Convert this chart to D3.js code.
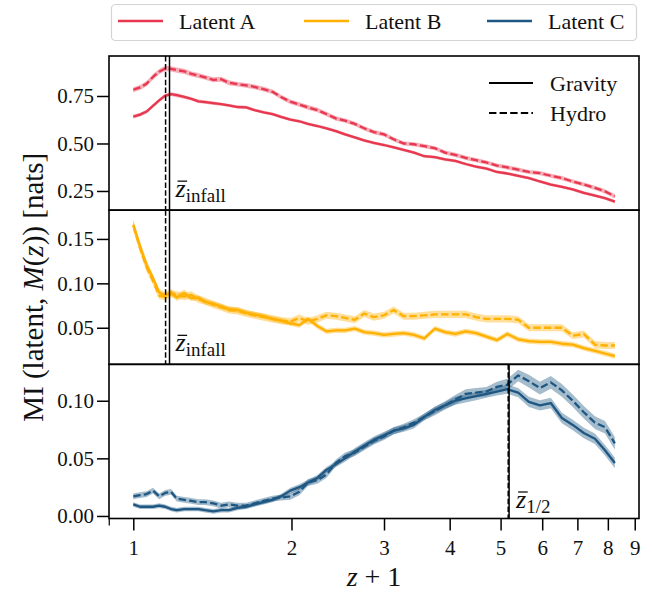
<!doctype html>
<html lang="en">
<head>
<meta charset="utf-8">
<title>MI vs z+1</title>
<script src="https://cdn.jsdelivr.net/npm/d3@7"></script>
<style>
  body { margin: 0; background: #fff; }
  text { font-family: "Liberation Serif", serif; fill: #111; }
</style>
</head>
<body>
<svg id="chart" width="652" height="593"></svg>
<script>
// z + 1 sample points (shared by all curves)
var zp1 = [
  1.00, 1.03, 1.06, 1.09, 1.12, 1.15, 1.18, 1.21, 1.25,
  1.29, 1.33, 1.37, 1.42, 1.47, 1.52, 1.58, 1.64, 1.70,
  1.77, 1.84, 1.91, 1.99, 2.07, 2.15, 2.24, 2.33, 2.43,
  2.53, 2.64, 2.75, 2.87, 3.00, 3.13, 3.27, 3.42, 3.58,
  3.75, 3.92, 4.10, 4.29, 4.49, 4.70, 4.92, 5.15, 5.40,
  5.66, 5.94, 6.23, 6.54, 6.86, 7.20, 7.56, 7.90, 8.25
];

// Latent A
var latentA_gravity = [
  0.641, 0.652, 0.668, 0.698, 0.727, 0.752, 0.760, 0.754, 0.745,
  0.735, 0.722, 0.718, 0.712, 0.707, 0.700, 0.692, 0.690, 0.676,
  0.664, 0.655, 0.640, 0.626, 0.617, 0.603, 0.592, 0.580, 0.565,
  0.548, 0.532, 0.516, 0.503, 0.492, 0.480, 0.466, 0.452, 0.433,
  0.428, 0.416, 0.408, 0.392, 0.378, 0.368, 0.350, 0.342, 0.330,
  0.318, 0.300, 0.284, 0.272, 0.258, 0.240, 0.226, 0.212, 0.194
];
var latentA_gravity_err = [
  0.010, 0.010, 0.010, 0.010, 0.010, 0.010, 0.010, 0.010, 0.009,
  0.009, 0.009, 0.009, 0.009, 0.008, 0.008, 0.008, 0.008, 0.008,
  0.008, 0.008, 0.008, 0.008, 0.008, 0.008, 0.008, 0.008, 0.008,
  0.008, 0.008, 0.008, 0.008, 0.008, 0.008, 0.008, 0.008, 0.008,
  0.008, 0.008, 0.008, 0.008, 0.008, 0.008, 0.008, 0.008, 0.008,
  0.008, 0.008, 0.008, 0.008, 0.008, 0.008, 0.008, 0.008, 0.008
];
var latentA_hydro = [
  0.783, 0.795, 0.815, 0.850, 0.878, 0.895, 0.893, 0.886, 0.880,
  0.866, 0.858, 0.848, 0.835, 0.838, 0.820, 0.812, 0.806, 0.798,
  0.786, 0.772, 0.745, 0.720, 0.705, 0.690, 0.676, 0.655, 0.632,
  0.620, 0.603, 0.580, 0.560, 0.548, 0.522, 0.500, 0.496, 0.486,
  0.475, 0.452, 0.440, 0.424, 0.412, 0.400, 0.384, 0.374, 0.362,
  0.350, 0.344, 0.330, 0.318, 0.300, 0.284, 0.266, 0.248, 0.222
];
var latentA_hydro_err = [
  0.013, 0.013, 0.014, 0.014, 0.014, 0.014, 0.014, 0.014, 0.014,
  0.013, 0.013, 0.013, 0.013, 0.013, 0.013, 0.012, 0.012, 0.012,
  0.012, 0.012, 0.012, 0.012, 0.012, 0.012, 0.012, 0.012, 0.012,
  0.011, 0.011, 0.011, 0.011, 0.011, 0.011, 0.011, 0.011, 0.011,
  0.011, 0.011, 0.011, 0.011, 0.011, 0.011, 0.011, 0.011, 0.011,
  0.011, 0.011, 0.011, 0.011, 0.011, 0.011, 0.011, 0.011, 0.011
];

// Latent B
var latentB_gravity = [
  0.166, 0.142, 0.121, 0.106, 0.090, 0.086, 0.090, 0.084, 0.089,
  0.083, 0.084, 0.079, 0.077, 0.074, 0.071, 0.070, 0.067, 0.065,
  0.063, 0.060, 0.058, 0.055, 0.053, 0.060, 0.052, 0.046, 0.047,
  0.047, 0.049, 0.045, 0.044, 0.042, 0.043, 0.044, 0.042, 0.038,
  0.049, 0.045, 0.043, 0.046, 0.044, 0.040, 0.036, 0.043, 0.037,
  0.035, 0.034, 0.034, 0.032, 0.031, 0.027, 0.024, 0.021, 0.018
];
var latentB_gravity_err = [
  0.006, 0.005, 0.005, 0.004, 0.004, 0.004, 0.004, 0.004, 0.004,
  0.003, 0.003, 0.003, 0.003, 0.003, 0.003, 0.003, 0.003, 0.003,
  0.003, 0.003, 0.003, 0.003, 0.003, 0.003, 0.003, 0.003, 0.003,
  0.003, 0.003, 0.003, 0.003, 0.003, 0.003, 0.003, 0.003, 0.003,
  0.003, 0.003, 0.003, 0.003, 0.003, 0.003, 0.003, 0.003, 0.003,
  0.003, 0.003, 0.003, 0.003, 0.003, 0.003, 0.003, 0.003, 0.003
];
var latentB_hydro = [
  0.165, 0.140, 0.118, 0.103, 0.086, 0.085, 0.088, 0.087, 0.085,
  0.087, 0.082, 0.080, 0.076, 0.073, 0.070, 0.069, 0.066, 0.064,
  0.062, 0.060, 0.058, 0.057, 0.061, 0.057, 0.060, 0.064, 0.063,
  0.061, 0.059, 0.066, 0.062, 0.064, 0.070, 0.063, 0.063, 0.064,
  0.065, 0.065, 0.065, 0.065, 0.062, 0.060, 0.060, 0.060, 0.059,
  0.050, 0.050, 0.050, 0.050, 0.041, 0.043, 0.031, 0.030, 0.030
];
var latentB_hydro_err = [
  0.006, 0.006, 0.005, 0.005, 0.004, 0.004, 0.004, 0.004, 0.004,
  0.004, 0.004, 0.004, 0.004, 0.004, 0.004, 0.004, 0.004, 0.004,
  0.004, 0.004, 0.004, 0.004, 0.004, 0.004, 0.004, 0.004, 0.004,
  0.004, 0.004, 0.004, 0.004, 0.004, 0.004, 0.004, 0.004, 0.004,
  0.004, 0.004, 0.004, 0.004, 0.004, 0.004, 0.004, 0.004, 0.004,
  0.004, 0.004, 0.004, 0.004, 0.004, 0.004, 0.004, 0.004, 0.004
];

// Latent C
var latentC_gravity = [
  0.010, 0.008, 0.008, 0.008, 0.009, 0.008, 0.006, 0.005, 0.006,
  0.006, 0.006, 0.005, 0.004, 0.005, 0.005, 0.007, 0.008, 0.010,
  0.012, 0.014, 0.017, 0.022, 0.025, 0.029, 0.033, 0.040, 0.045,
  0.050, 0.056, 0.061, 0.066, 0.070, 0.074, 0.076, 0.079, 0.086,
  0.092, 0.096, 0.100, 0.102, 0.104, 0.106, 0.108, 0.110, 0.107,
  0.099, 0.096, 0.098, 0.085, 0.079, 0.072, 0.067, 0.057, 0.046
];
var latentC_gravity_err = [
  0.002, 0.002, 0.002, 0.002, 0.002, 0.002, 0.002, 0.002, 0.002,
  0.002, 0.002, 0.002, 0.002, 0.002, 0.002, 0.002, 0.002, 0.002,
  0.002, 0.002, 0.002, 0.0025, 0.0025, 0.0025, 0.0025, 0.0025, 0.0025,
  0.003, 0.003, 0.003, 0.003, 0.003, 0.003, 0.003, 0.003, 0.003,
  0.003, 0.003, 0.0035, 0.0035, 0.0035, 0.0035, 0.0035, 0.004, 0.004,
  0.0045, 0.0045, 0.0045, 0.0045, 0.0045, 0.0045, 0.0045, 0.0045, 0.0045
];
var latentC_hydro = [
  0.017, 0.018, 0.019, 0.022, 0.017, 0.020, 0.021, 0.015, 0.014,
  0.013, 0.012, 0.012, 0.011, 0.009, 0.010, 0.009, 0.009, 0.011,
  0.013, 0.015, 0.016, 0.017, 0.021, 0.029, 0.031, 0.036, 0.046,
  0.052, 0.055, 0.060, 0.065, 0.069, 0.074, 0.077, 0.081, 0.086,
  0.091, 0.096, 0.101, 0.106, 0.107, 0.108, 0.112, 0.114, 0.122,
  0.117, 0.111, 0.116, 0.109, 0.100, 0.090, 0.081, 0.077, 0.063
];
var latentC_hydro_err = [
  0.0025, 0.0025, 0.0025, 0.0025, 0.0025, 0.0025, 0.0025, 0.0025, 0.0025,
  0.0025, 0.0025, 0.0025, 0.0025, 0.0025, 0.0025, 0.0025, 0.0025, 0.0025,
  0.0025, 0.0025, 0.0025, 0.003, 0.003, 0.003, 0.003, 0.003, 0.003,
  0.003, 0.003, 0.003, 0.003, 0.003, 0.003, 0.003, 0.003, 0.003,
  0.0035, 0.0035, 0.004, 0.004, 0.004, 0.004, 0.0045, 0.005, 0.005,
  0.0055, 0.0055, 0.0055, 0.0055, 0.0055, 0.0055, 0.0055, 0.0055, 0.0055
];

// reference redshifts (z + 1)
var zInfall_gravity = 1.172, zInfall_hydro = 1.152;
var zHalf_gravity = 5.19, zHalf_hydro = 5.17;

var latentNames = ["Latent A", "Latent B", "Latent C"];
var xTicks = [1, 2, 3, 4, 5, 6, 7, 8, 9];

// ---- layout ----
var svg = d3.select("#chart");
var plotL = 109, plotR = 639, plotT = 56, plotB = 518.5;
var ph = (plotB - plotT) / 3;
var colors = ["#e8384f", "#ffb000", "#1f5783"];
var dash = "7.4,3.2";

var x = d3.scaleLog().domain([0.899, 9.17]).range([plotL, plotR]);

var panels = [
  { g: latentA_gravity, ge: latentA_gravity_err, h: latentA_hydro, he: latentA_hydro_err,
    dom: [0.149, 0.9605], ticks: [0.25, 0.50, 0.75], vg: zInfall_gravity, vh: zInfall_hydro, sub: "infall" },
  { g: latentB_gravity, ge: latentB_gravity_err, h: latentB_hydro, he: latentB_hydro_err,
    dom: [0.0088, 0.1824], ticks: [0.05, 0.10, 0.15], vg: zInfall_gravity, vh: zInfall_hydro, sub: "infall" },
  { g: latentC_gravity, ge: latentC_gravity_err, h: latentC_hydro, he: latentC_hydro_err,
    dom: [-0.0022, 0.1316], ticks: [0.00, 0.05, 0.10], vg: zHalf_gravity, vh: zHalf_hydro, sub: "1/2" }
];

function zbar(xpos, ybase, sub) {
  var t = svg.append("text").attr("x", xpos).attr("y", ybase).style("font-size", "26px");
  var zt = t.append("tspan").style("font-style", "italic").text("z");
  t.append("tspan").attr("dy", 5).style("font-size", "19px").text(sub);
  var w = zt.node().getComputedTextLength();
  svg.append("line")
    .attr("x1", xpos + 2).attr("x2", xpos + w + 1.5)
    .attr("y1", ybase - 15.5).attr("y2", ybase - 15.5)
    .attr("stroke", "#111").attr("stroke-width", 1.3);
}

panels.forEach(function(p, k) {
  var y0 = plotT + k * ph;
  var y = d3.scaleLinear().domain(p.dom).range([y0 + ph, y0]);
  var col = colors[k];
  var idx = d3.range(zp1.length);

  var clipId = "clip" + k;
  svg.append("clipPath").attr("id", clipId)
    .append("rect").attr("x", plotL).attr("y", y0).attr("width", plotR - plotL).attr("height", ph);
  var g = svg.append("g").attr("clip-path", "url(#" + clipId + ")");

  [[p.g, p.ge], [p.h, p.he]].forEach(function(s) {
    var vals = s[0], err = s[1];
    var band = d3.area()
      .x(function(i) { return x(zp1[i]); })
      .y0(function(i) { return y(vals[i] - err[i]); })
      .y1(function(i) { return y(vals[i] + err[i]); });
    g.append("path").attr("d", band(idx)).attr("fill", col).attr("fill-opacity", 0.4);
  });
  [[p.g, null], [p.h, dash]].forEach(function(s) {
    var vals = s[0];
    var line = d3.line()
      .x(function(i) { return x(zp1[i]); })
      .y(function(i) { return y(vals[i]); });
    g.append("path").attr("d", line(idx))
      .attr("fill", "none").attr("stroke", col).attr("stroke-width", 2.3)
      .attr("stroke-linejoin", "round")
      .attr("stroke-dasharray", s[1]);
  });

  // reference lines
  g.append("line").attr("x1", x(p.vh)).attr("x2", x(p.vh)).attr("y1", y0).attr("y2", y0 + ph)
    .attr("stroke", "#000").attr("stroke-width", 1.5).attr("stroke-dasharray", "5.5,2.4");
  g.append("line").attr("x1", x(p.vg)).attr("x2", x(p.vg)).attr("y1", y0).attr("y2", y0 + ph)
    .attr("stroke", "#000").attr("stroke-width", 1.5);

  var tx = x(p.vg) + (k == 2 ? 7 : 6);
  zbar(tx, y0 + ph - (k == 2 ? 11 : 13.5), p.sub);

  // y axis
  var ay = svg.append("g").attr("transform", "translate(" + plotL + ",0)")
    .call(d3.axisLeft(y).tickValues(p.ticks).tickSize(12).tickPadding(3).tickFormat(d3.format(".2f")));
  ay.select(".domain").remove();
  ay.selectAll("line").attr("stroke", "#000").attr("stroke-width", 1.5);
  ay.selectAll("text").attr("font-family", null).attr("font-size", null).style("font-size", "21px");

  svg.append("rect").attr("x", plotL).attr("y", y0).attr("width", plotR - plotL).attr("height", ph)
    .attr("fill", "none").attr("stroke", "#000").attr("stroke-width", 1.6);
});

// x axis
var ax = svg.append("g").attr("transform", "translate(0," + plotB + ")")
  .call(d3.axisBottom(x).tickValues(xTicks).tickSize(12).tickPadding(10).tickFormat(d3.format("d")));
ax.select(".domain").remove();
ax.selectAll("line").attr("stroke", "#000").attr("stroke-width", 1.5);
ax.selectAll("text").attr("font-family", null).attr("font-size", null).style("font-size", "21px");
ax.append("line").attr("x1", x(0.9)).attr("x2", x(0.9)).attr("y1", 0).attr("y2", 7)
  .attr("stroke", "#000").attr("stroke-width", 1.2);

// axis labels
var xl = svg.append("text").attr("x", (plotL + plotR) / 2).attr("y", 586)
  .attr("text-anchor", "middle").style("font-size", "28px");
xl.append("tspan").style("font-style", "italic").text("z");
xl.append("tspan").text(" + 1");

var yl = svg.append("text").attr("transform", "translate(43," + ((plotT + plotB) / 2) + ") rotate(-90)")
  .attr("text-anchor", "middle").style("font-size", "29px");
yl.append("tspan").text("MI (latent, ");
yl.append("tspan").style("font-style", "italic").text("M");
yl.append("tspan").text("(");
yl.append("tspan").style("font-style", "italic").text("z");
yl.append("tspan").text(")) [nats]");

// top legend
svg.append("rect").attr("x", 111.5).attr("y", 4.5).attr("width", 525).attr("height", 36).attr("rx", 4)
  .attr("fill", "#fff").attr("stroke", "#d4d4d4").attr("stroke-width", 1.2);
var legX = [118, 304, 487];
latentNames.forEach(function(n, i) {
  svg.append("line").attr("x1", legX[i]).attr("x2", legX[i] + 45).attr("y1", 21).attr("y2", 21)
    .attr("stroke", colors[i]).attr("stroke-width", 2.3);
  svg.append("text").attr("x", legX[i] + 61).attr("y", 28.5).style("font-size", "22px").text(n);
});

// style legend in panel 1
[["Gravity", null, 83], ["Hydro", dash, 113]].forEach(function(d) {
  svg.append("line").attr("x1", 489).attr("x2", 533).attr("y1", d[2]).attr("y2", d[2])
    .attr("stroke", "#000").attr("stroke-width", 2).attr("stroke-dasharray", d[1]);
  svg.append("text").attr("x", 550).attr("y", d[2] + 7.5).style("font-size", "22px").text(d[0]);
});
</script>
</body>
</html>
